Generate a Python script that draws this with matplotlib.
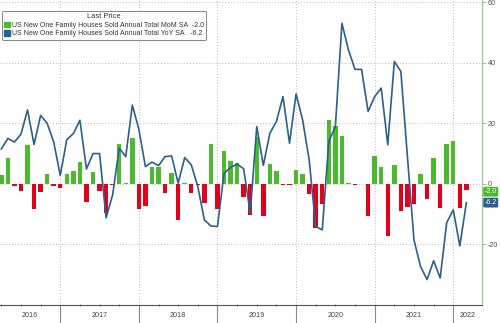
import numpy as np
import pandas as pd
import matplotlib
matplotlib.use('Agg')
import matplotlib.pyplot as plt
import matplotlib.transforms as mtransforms
from matplotlib.patches import Patch

# monthly data, Mar 2016 .. Feb 2022
months = pd.date_range('2016-03-31', '2022-02-28', freq='ME')

mom = [3.0, 8.4, -0.7, -2.3, 12.9, -8.4, -2.8, 3.2, -0.6, -1.5,
       3.2, 4.1, 7.1, -6.0, 4.0, -2.2, -9.7, -0.5, 13.2, 0.4,
       15.1, -8.3, -7.3, 5.7, 5.7, -3.1, 3.5, -12.0, 0.3, -2.9,
       -0.3, -6.4, 13.2, -8.3, 11.0, 7.5, 6.8, -4.4, -10.2, 15.6,
       -10.6, 6.5, 4.3, -0.3, -0.3, 4.7, 3.3, -3.4, -14.6, -6.5,
       21.1, 19.2, 15.9, 0.4, -0.5, -0.2, -10.7, 9.1, 5.4, -17.2,
       6.3, -8.8, -7.7, -6.6, 3.2, -4.9, 8.6, -7.9, 13.1, 14.3,
       -8.1, -2.0]

yoy = [11.5, 15.0, 13.8, 16.4, 24.4, 13.0, 22.6, 20.0, 13.8, 2.8,
       14.6, 16.6, 21.0, 4.9, 10.0, 10.0, -11.2, -3.6, 11.8, 9.0,
       26.0, 18.0, 5.7, 7.2, 6.0, 9.0, 9.2, 0.2, 8.7, 6.3,
       -0.9, -11.9, -13.9, -14.1, 3.5, 5.4, 6.5, 5.0, -9.7, 18.9,
       6.1, 16.7, 20.6, 28.8, 13.4, 29.7, 21.1, 7.9, -14.1, -15.2,
       14.0, 18.9, 53.0, 44.2, 37.8, 37.8, 23.9, 28.8, 31.6, 12.9,
       40.4, 37.1, 9.0, -18.5, -27.3, -31.6, -25.4, -31.1, -12.8, -8.6,
       -20.5, -6.2]

yticks = [-20, 0, 20, 40, 60]
mom_label = 'US New One Family Houses Sold Annual Total MoM SA'
yoy_label = 'US New One Family Houses Sold Annual Total YoY SA'

green = '#4cba2e'
red = '#e3001b'
blue = '#2b5f8e'

plt.rcParams['font.family'] = ['Liberation Sans', 'DejaVu Sans']

fig = plt.figure(figsize=(5.0, 3.23), dpi=100)
ax = fig.add_axes([0.0, 18/323, 481.7/500, 1 - 18/323])

x = np.arange(len(months))
cols = [green if v >= 0 else red for v in mom]
ax.bar(x, mom, width=0.68, color=cols, zorder=2)
ax.plot(x, yoy, color=blue, lw=1.2, zorder=3)

ax.set_xlim(-0.2, 73.34)
ax.set_ylim(-40, 60.7)

# year boundaries (end of December)
bounds = [i for i, d in enumerate(months) if d.month == 12]
quarters = [i for i, d in enumerate(months) if d.month in (3, 6, 9)]
ax.set_xticks(bounds)
ax.set_xticks(quarters, minor=True)
ax.tick_params(axis='x', which='both', labelbottom=False)
ax.tick_params(axis='x', which='major', length=13, width=0.8, color='#888888', direction='out')
ax.tick_params(axis='x', which='minor', length=2, width=0.6, color='#666666', direction='inout')

for b in bounds:
    ax.axvline(b, color='#bbbbbb', lw=0.7, ls=(0, (1, 2)), zorder=1)
for t in yticks:
    ax.axhline(t, color='#bbbbbb', lw=0.7, ls=(0, (1, 2)), zorder=1)

# year labels centered in visible span of each year
edges = [ax.get_xlim()[0]] + bounds + [ax.get_xlim()[1]]
years = [2016 + k for k in range(len(edges) - 1)]
trans = mtransforms.blended_transform_factory(ax.transData, ax.transAxes)
for k, yr in enumerate(years):
    ax.text((edges[k] + edges[k+1]) / 2, -0.034, str(yr), transform=trans,
            ha='center', va='center', fontsize=5.2, color='#444444', clip_on=False)

ax.yaxis.tick_right()
ax.set_yticks(yticks)
ax.set_yticklabels([str(t) for t in yticks])
ax.tick_params(axis='y', length=3, width=0.6, color='#7fbf7f', labelsize=5.2,
               labelcolor='#555555', pad=1.5)

ax.spines['left'].set_visible(False)
ax.spines['top'].set_visible(False)
ax.spines['right'].set_color('#8ccc8c')
ax.spines['right'].set_linewidth(0.8)
ax.spines['bottom'].set_color('#555555')
ax.spines['bottom'].set_linewidth(0.8)

# last value tags on the right axis
ytrans = ax.get_yaxis_transform()
ax.text(1.006, mom[-1] - 0.6, '%.1f' % mom[-1], transform=ytrans, fontsize=5.0, color='white',
        va='center', ha='left', clip_on=False, zorder=5,
        bbox=dict(boxstyle='round,pad=0.2', fc=green, ec='none'))
ax.text(1.006, yoy[-1], '%.1f' % yoy[-1], transform=ytrans, fontsize=5.0, color='white',
        va='center', ha='left', clip_on=False, zorder=5,
        bbox=dict(boxstyle='round,pad=0.2', fc=blue, ec='none'))

handles = [Patch(color=green), Patch(color=blue)]
labels = [mom_label + '  %.1f' % mom[-1], yoy_label + '   %.1f' % yoy[-1]]
leg = ax.legend(handles, labels, title='Last Price', loc='upper left',
                bbox_to_anchor=(2/481.7, 1 - 11/305), fontsize=5.0, title_fontsize=5.4,
                handlelength=0.8, handleheight=0.8, handletextpad=0.3,
                labelspacing=0.2, borderpad=0.35, frameon=True, fancybox=True,
                borderaxespad=0)
leg.get_frame().set_edgecolor('#666666')
leg.get_frame().set_linewidth(0.7)
for t in leg.get_texts():
    t.set_color('#333333')
leg.get_title().set_color('#333333')

fig.savefig('out.png', dpi=100)
